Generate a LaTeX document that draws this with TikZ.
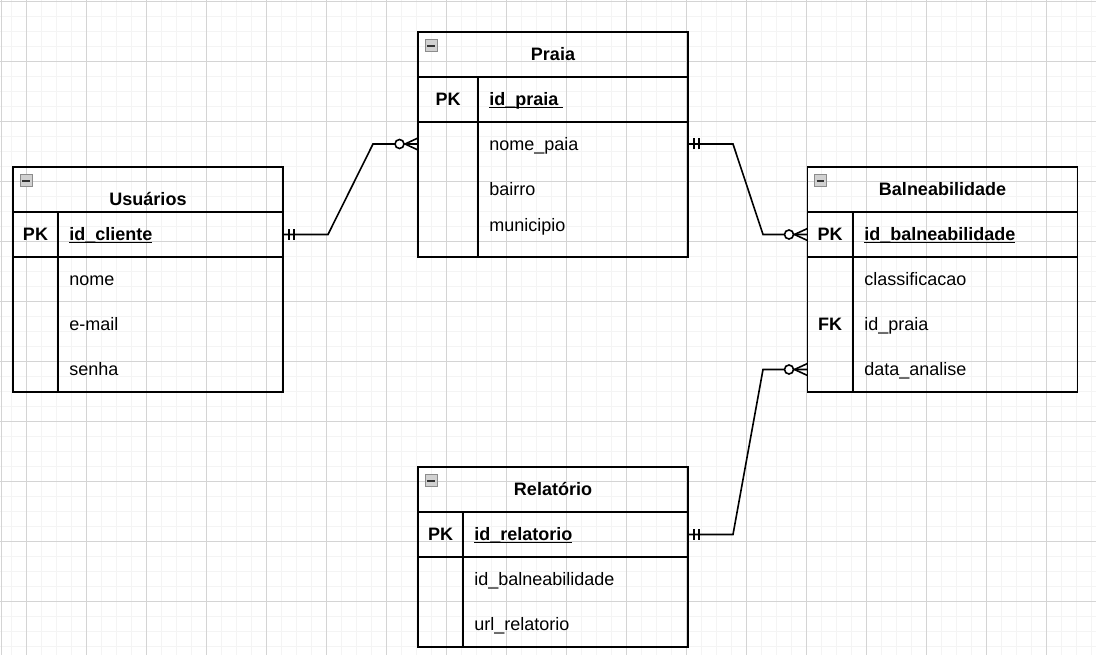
\documentclass[tikz,border=0pt]{standalone}
\usepackage{fontspec}
\setmainfont{Liberation Sans}
\usetikzlibrary{positioning}

\definecolor{gridmajor}{RGB}{212,212,212}
\definecolor{gridminor}{RGB}{244,244,244}

\newsavebox{\ulsave}
\newcommand{\keyname}[1]{\sbox{\ulsave}{\bfseries #1}\rlap{\rule[-1.9pt]{\wd\ulsave}{0.9pt}}\usebox{\ulsave}}

\tikzset{
  tbl/.style={draw, line width=1.1pt, inner sep=0pt, outer sep=0pt, anchor=north west},
  txt/.style={inner sep=0pt, text height=12.2pt, text depth=2.9pt, font=\fontsize{13.5}{16}\selectfont},
  hd/.style={txt, font=\fontsize{13.5}{16}\selectfont\bfseries},
  key/.style={txt, font=\fontsize{13.5}{16}\selectfont\bfseries},
  fld/.style={txt, anchor=west},
  link/.style={line width=1.2pt},
  mandone/.pic={\draw[line width=1.2pt] (6,-5.5) -- (6,5.5) (11,-5.5) -- (11,5.5);},
  zeromany/.pic={\draw[line width=1.2pt] (0,-6) -- (-13,0) -- (0,6);
    \draw[line width=1.2pt, fill=white] (-18.5,0) circle (4.5);},
  icon/.pic={\draw[draw=black!45, fill=black!18, line width=0.75pt] (-6,-6) rectangle (6,6);
    \draw[black!80, line width=1.3pt] (-3.8,0) -- (3.8,0);}
}

\begin{document}
\begin{tikzpicture}[x=0.75pt,y=0.75pt,yscale=-1,xscale=1]
\useasboundingbox (0,0) rectangle (1096,655);
\fill[white] (0,0) rectangle (1096,655);

%Grid
\foreach \x in {11.7,26.7,...,1096} \draw[gridminor, line width=0.9pt] (\x,0) -- (\x,655);
\foreach \y in {1.7,16.7,...,655} \draw[gridminor, line width=0.9pt] (0,\y) -- (1096,\y);
\foreach \x in {26.7,86.7,...,1096} \draw[gridmajor, line width=0.75pt] (\x,0) -- (\x,655);
\foreach \y in {1.7,61.7,...,655} \draw[gridmajor, line width=0.75pt] (0,\y) -- (1096,\y);
\draw[gridmajor, line width=0.75pt] (1.5,0) -- (1.5,655);

%Table: Usuarios
\node[tbl, minimum width=202.5pt, minimum height=33.75pt] (usu-hd) at (13,167) {};
\node[tbl, minimum width=202.5pt, minimum height=33.75pt] (usu-pk) at (usu-hd.south west) {};
\node[tbl, minimum width=202.5pt, minimum height=101.25pt] (usu-bd) at (usu-pk.south west) {};
\draw[line width=1.1pt] (58,212) coordinate (usu-col) -- (usu-col |- usu-bd.south);
\pic at ([shift={(13,14)}]usu-hd.north west) {icon};
\node[hd] (usu-t) at (148,199.5) {Usuários};
\node[key] (usu-k) at (35.5,234.5) {PK};
\node[fld] (usu-id) at (69,234.5) {\keyname{id\_cliente}};
\node[fld] (usu-f1) at (69,279.5) {nome};
\node[fld] (usu-f2) at (69,324.5) {e-mail};
\node[fld] (usu-f3) at (69,369.5) {senha};

%Table: Praia
\node[tbl, minimum width=202.5pt, minimum height=33.75pt] (praia-hd) at (418,32) {};
\node[tbl, minimum width=202.5pt, minimum height=33.75pt] (praia-pk) at (praia-hd.south west) {};
\node[tbl, minimum width=202.5pt, minimum height=101.25pt] (praia-bd) at (praia-pk.south west) {};
\draw[line width=1.1pt] (478,77) coordinate (praia-col) -- (praia-col |- praia-bd.south);
\pic at ([shift={(13,14)}]praia-hd.north west) {icon};
\node[hd] (praia-t) at (553,54) {Praia};
\node[key] (praia-k) at (448,99.5) {PK};
\node[fld] (praia-id) at (489,99.5) {\keyname{id\_praia\ }};
\node[fld] (praia-f1) at (489,144) {nome\_paia};
\node[fld] (praia-f2) at (489,189) {bairro};
\node[fld] (praia-f3) at (489,225) {municipio};

%Table: Balneabilidade
\node[tbl, minimum width=202.5pt, minimum height=33.75pt] (bal-hd) at (807.5,167) {};
\node[tbl, minimum width=202.5pt, minimum height=33.75pt] (bal-pk) at (bal-hd.south west) {};
\node[tbl, minimum width=202.5pt, minimum height=101.25pt] (bal-bd) at (bal-pk.south west) {};
\draw[line width=1.1pt] (853,212) coordinate (bal-col) -- (bal-col |- bal-bd.south);
\pic at ([shift={(13,14)}]bal-hd.north west) {icon};
\node[hd] (bal-t) at (942.5,189) {Balneabilidade};
\node[key] (bal-k) at (830,234.5) {PK};
\node[fld] (bal-id) at (864,234.5) {\keyname{id\_balneabilidade}};
\node[fld] (bal-f1) at (864,279.5) {classificacao};
\node[key] (bal-fk) at (830,324.5) {FK};
\node[fld] (bal-f2) at (864,324.5) {id\_praia};
\node[fld] (bal-f3) at (864,369.5) {data\_analise};

%Table: Relatorio
\node[tbl, minimum width=202.5pt, minimum height=33.75pt] (rel-hd) at (418,467) {};
\node[tbl, minimum width=202.5pt, minimum height=33.75pt] (rel-pk) at (rel-hd.south west) {};
\node[tbl, minimum width=202.5pt, minimum height=67.5pt] (rel-bd) at (rel-pk.south west) {};
\draw[line width=1.1pt] (463,512) coordinate (rel-col) -- (rel-col |- rel-bd.south);
\pic at ([shift={(13,14)}]rel-hd.north west) {icon};
\node[hd] (rel-t) at (553,489) {Relatório};
\node[key] (rel-k) at (440.5,534.5) {PK};
\node[fld] (rel-id) at (474,534.5) {\keyname{id\_relatorio}};
\node[fld] (rel-f1) at (474,579.5) {id\_balneabilidade};
\node[fld] (rel-f2) at (474,624.5) {url\_relatorio};

%Relations
\draw[link] (usu-pk.east) pic{mandone} -- ++(45,0) -- (373,144) -- (praia-bd.west |- praia-f1) pic{zeromany};
\draw[link] (praia-bd.east |- praia-f1) pic{mandone} -- ++(45,0) -- (763,234.5) -- (bal-pk.west) pic{zeromany};
\draw[link] (rel-pk.east) pic{mandone} -- ++(45,0) -- (763,369.5) -- (bal-bd.west |- bal-f3) pic{zeromany};

\end{tikzpicture}
\end{document}
